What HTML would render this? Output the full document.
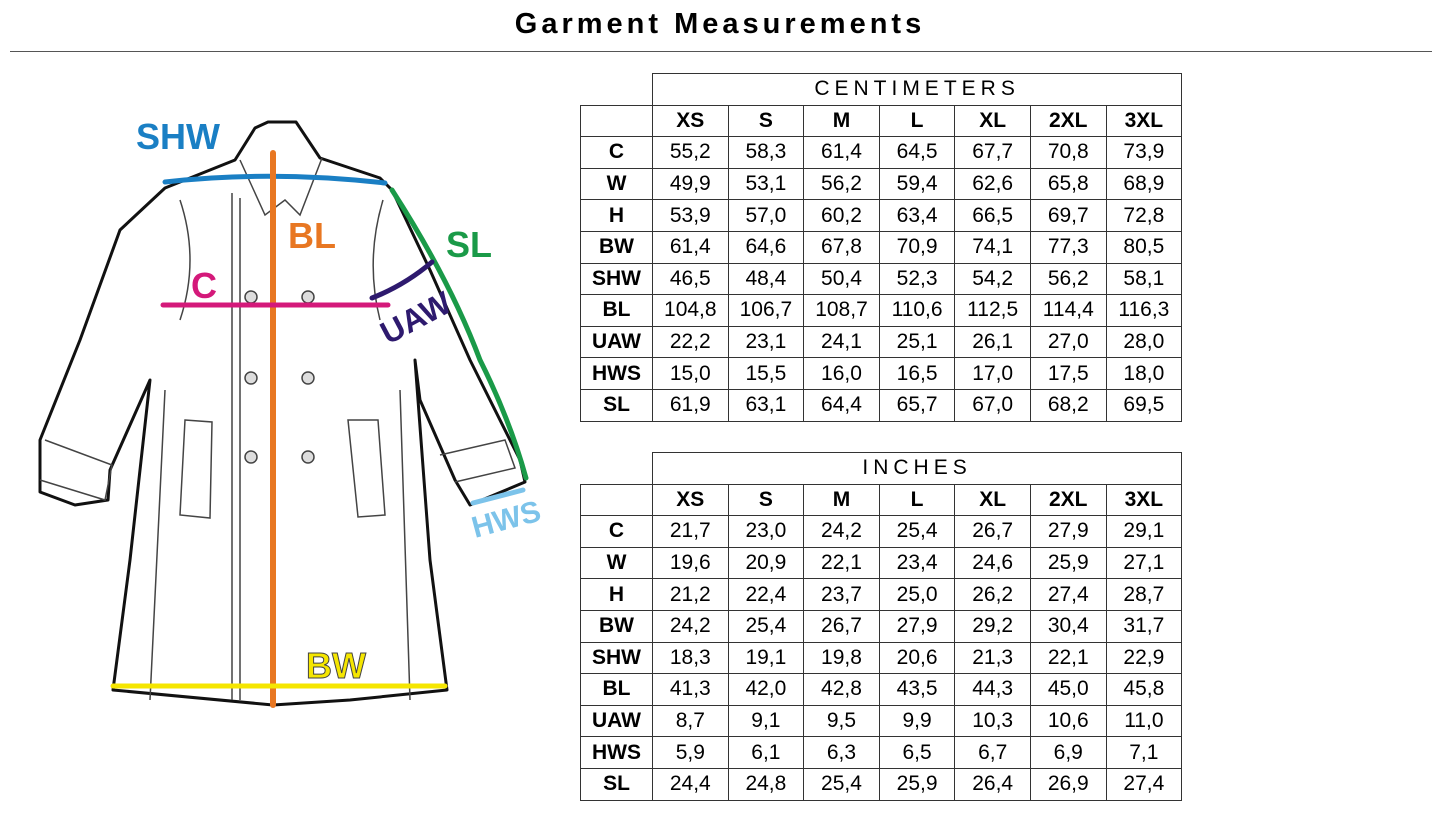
<!DOCTYPE html>
<html><head><style>
body{margin:0;width:1445px;height:836px;background:#fff;position:relative;font-family:"Liberation Sans",sans-serif;overflow:hidden}
.title{position:absolute;top:8px;left:0;width:1440px;text-align:center;font-weight:bold;font-size:29px;letter-spacing:4px}
.rule{position:absolute;top:51px;left:10px;width:1422px;height:1px;background:#555}
table{position:absolute;border-collapse:collapse;font-size:21px}
td{border:1px solid #333;height:30.6px;padding:0;text-align:center}
td.l{font-weight:bold;width:71px}
td.v{width:74.6px}
tr.h td{font-weight:bold}
td.e{border:none}
td.cap{letter-spacing:5px;font-size:21px}
</style></head><body>
<div class="title">Garment Measurements</div>
<div class="rule"></div>
<svg width="600" height="720" style="position:absolute;left:0;top:0" viewBox="0 0 600 720">
<g fill="#fff" stroke="#111" stroke-width="3" stroke-linejoin="round">
<path d="M255,128 L268,122 L296,122 L320,158 L380,178 L392,190 L430,270 L470,360 L520,460 L525,482 L470,505 L455,480 L420,400 L415,360 L430,560 L447,690 L350,700 L273,705 L113,690 L130,560 L150,380 L110,470 L108,500 L75,505 L40,492 L40,440 L80,340 L120,230 L165,188 L235,160 Z"/>
</g>
<g fill="none" stroke="#444" stroke-width="1.5">
<path d="M240,160 L265,215 L285,200 L300,215 L322,158"/>
<path d="M232,193 L232,700 M240,198 L240,700"/>
<path d="M180,200 Q200,260 180,320 M383,200 Q365,260 380,320"/>
<path d="M185,420 L212,422 L210,518 L180,515 Z M348,420 L378,420 L385,515 L358,517 Z"/>
<path d="M45,440 L112,465 L105,500 L40,480 M440,455 L505,440 L515,468 L455,482"/>
<path d="M150,700 L165,390 M410,700 L400,390"/>
</g>
<g fill="#ddd" stroke="#444" stroke-width="1.5">
<circle cx="251" cy="297" r="6"/><circle cx="308" cy="297" r="6"/>
<circle cx="251" cy="378" r="6"/><circle cx="308" cy="378" r="6"/>
<circle cx="251" cy="457" r="6"/><circle cx="308" cy="457" r="6"/>
</g>
<g stroke-width="5" fill="none" stroke-linecap="round">
<path d="M165,182 Q270,170 385,183" stroke="#1a7fc4"/>
<path d="M273,153 L273,705" stroke="#e87722" stroke-width="6"/>
<path d="M163,305 L388,305" stroke="#d4197a"/>
<path d="M392,190 Q450,280 480,360 Q510,420 526,478" stroke="#1a9a48"/>
<path d="M372,298 Q405,285 432,262" stroke="#2e1a6e"/>
<path d="M473,503 L523,490" stroke="#7cc3ea"/>
<path d="M113,686 L445,686" stroke="#f5e600"/>
</g>
<g font-family="Liberation Sans,sans-serif" font-weight="bold">
<text x="136" y="149" font-size="36" fill="#1a7fc4">SHW</text>
<text x="288" y="248" font-size="36" fill="#e87722">BL</text>
<text x="446" y="257" font-size="36" fill="#1a9a48">SL</text>
<text x="191" y="298" font-size="36" fill="#d4197a">C</text>
<text x="0" y="0" font-size="32" fill="#2e1a6e" transform="translate(388,345) rotate(-28)">UAW</text>
<text x="0" y="0" font-size="30" fill="#7cc3ea" transform="translate(475,538) rotate(-15)">HWS</text>
<text x="306" y="678" font-size="36" fill="#f5e600" stroke="#444" stroke-width="1">BW</text>
</g>
</svg>

<table style="left:580px;top:73px">
<tr><td class="e"></td><td colspan="7" class="cap">CENTIMETERS</td></tr>
<tr class="h"><td class="l"></td><td class="v">XS</td><td class="v">S</td><td class="v">M</td><td class="v">L</td><td class="v">XL</td><td class="v">2XL</td><td class="v">3XL</td></tr>
<tr><td class="l">C</td><td>55,2</td><td>58,3</td><td>61,4</td><td>64,5</td><td>67,7</td><td>70,8</td><td>73,9</td></tr>
<tr><td class="l">W</td><td>49,9</td><td>53,1</td><td>56,2</td><td>59,4</td><td>62,6</td><td>65,8</td><td>68,9</td></tr>
<tr><td class="l">H</td><td>53,9</td><td>57,0</td><td>60,2</td><td>63,4</td><td>66,5</td><td>69,7</td><td>72,8</td></tr>
<tr><td class="l">BW</td><td>61,4</td><td>64,6</td><td>67,8</td><td>70,9</td><td>74,1</td><td>77,3</td><td>80,5</td></tr>
<tr><td class="l">SHW</td><td>46,5</td><td>48,4</td><td>50,4</td><td>52,3</td><td>54,2</td><td>56,2</td><td>58,1</td></tr>
<tr><td class="l">BL</td><td>104,8</td><td>106,7</td><td>108,7</td><td>110,6</td><td>112,5</td><td>114,4</td><td>116,3</td></tr>
<tr><td class="l">UAW</td><td>22,2</td><td>23,1</td><td>24,1</td><td>25,1</td><td>26,1</td><td>27,0</td><td>28,0</td></tr>
<tr><td class="l">HWS</td><td>15,0</td><td>15,5</td><td>16,0</td><td>16,5</td><td>17,0</td><td>17,5</td><td>18,0</td></tr>
<tr><td class="l">SL</td><td>61,9</td><td>63,1</td><td>64,4</td><td>65,7</td><td>67,0</td><td>68,2</td><td>69,5</td></tr>
</table>

<table style="left:580px;top:452px">
<tr><td class="e"></td><td colspan="7" class="cap">INCHES</td></tr>
<tr class="h"><td class="l"></td><td class="v">XS</td><td class="v">S</td><td class="v">M</td><td class="v">L</td><td class="v">XL</td><td class="v">2XL</td><td class="v">3XL</td></tr>
<tr><td class="l">C</td><td>21,7</td><td>23,0</td><td>24,2</td><td>25,4</td><td>26,7</td><td>27,9</td><td>29,1</td></tr>
<tr><td class="l">W</td><td>19,6</td><td>20,9</td><td>22,1</td><td>23,4</td><td>24,6</td><td>25,9</td><td>27,1</td></tr>
<tr><td class="l">H</td><td>21,2</td><td>22,4</td><td>23,7</td><td>25,0</td><td>26,2</td><td>27,4</td><td>28,7</td></tr>
<tr><td class="l">BW</td><td>24,2</td><td>25,4</td><td>26,7</td><td>27,9</td><td>29,2</td><td>30,4</td><td>31,7</td></tr>
<tr><td class="l">SHW</td><td>18,3</td><td>19,1</td><td>19,8</td><td>20,6</td><td>21,3</td><td>22,1</td><td>22,9</td></tr>
<tr><td class="l">BL</td><td>41,3</td><td>42,0</td><td>42,8</td><td>43,5</td><td>44,3</td><td>45,0</td><td>45,8</td></tr>
<tr><td class="l">UAW</td><td>8,7</td><td>9,1</td><td>9,5</td><td>9,9</td><td>10,3</td><td>10,6</td><td>11,0</td></tr>
<tr><td class="l">HWS</td><td>5,9</td><td>6,1</td><td>6,3</td><td>6,5</td><td>6,7</td><td>6,9</td><td>7,1</td></tr>
<tr><td class="l">SL</td><td>24,4</td><td>24,8</td><td>25,4</td><td>25,9</td><td>26,4</td><td>26,9</td><td>27,4</td></tr>
</table>
</body></html>
